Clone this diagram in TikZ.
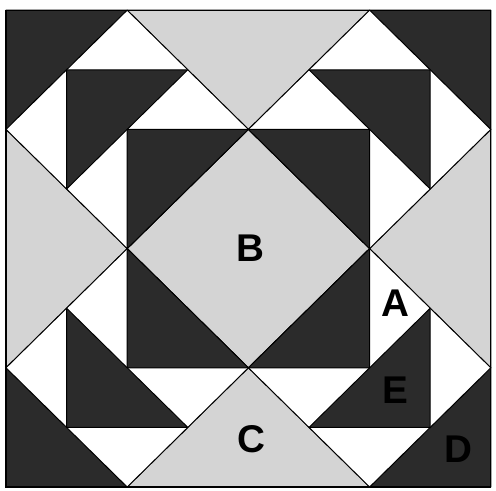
\documentclass[tikz,border=0pt]{standalone}
\usepackage{fontspec}
\setmainfont{Liberation Sans}
\definecolor{quiltdark}{HTML}{2B2B2B}
\definecolor{quiltlight}{HTML}{D4D4D4}
\begin{document}
\begin{tikzpicture}[x=45.45pt,y=44.7pt,
  darkpiece/.style={fill=quiltdark,draw=black,line width=0.7pt,line join=round},
  lightpiece/.style={fill=quiltlight,draw=black,line width=0.7pt,line join=round},
  whitepiece/.style={fill=white,draw=black,line width=0.7pt,line join=round},
  lab/.style={font=\fontsize{29}{29}\selectfont\bfseries,text=black,inner sep=0pt}]
\useasboundingbox (-4.5pt,-3pt) rectangle (367.5pt,365.25pt);
% corners
\filldraw[darkpiece] (0,8) -- (2,8) -- (0,6) -- cycle;
\filldraw[darkpiece] (8,8) -- (6,8) -- (8,6) -- cycle;
\filldraw[darkpiece] (0,0) -- (2,0) -- (0,2) -- cycle;
\filldraw[darkpiece] (8,0) -- (6,0) -- (8,2) -- cycle;
% light triangles and centre
\filldraw[lightpiece] (2,8) -- (6,8) -- (4,6) -- cycle;
\filldraw[lightpiece] (0,6) -- (2,4) -- (0,2) -- cycle;
\filldraw[lightpiece] (8,6) -- (6,4) -- (8,2) -- cycle;
\filldraw[lightpiece] (2,0) -- (6,0) -- (4,2) -- cycle;
\filldraw[lightpiece] (4,6) -- (6,4) -- (4,2) -- (2,4) -- cycle;
% diamonds
\filldraw[whitepiece] (2,8) -- (4,6) -- (2,4) -- (0,6) -- cycle;
\filldraw[whitepiece] (6,8) -- (8,6) -- (6,4) -- (4,6) -- cycle;
\filldraw[whitepiece] (2,4) -- (4,2) -- (2,0) -- (0,2) -- cycle;
\filldraw[whitepiece] (6,4) -- (8,2) -- (6,0) -- (4,2) -- cycle;
% dark triangles in diamonds
\filldraw[darkpiece] (1,7) -- (3,7) -- (1,5) -- cycle;
\filldraw[darkpiece] (2,6) -- (4,6) -- (2,4) -- cycle;
\filldraw[darkpiece] (5,7) -- (7,7) -- (7,5) -- cycle;
\filldraw[darkpiece] (4,6) -- (6,6) -- (6,4) -- cycle;
\filldraw[darkpiece] (1,3) -- (1,1) -- (3,1) -- cycle;
\filldraw[darkpiece] (2,4) -- (2,2) -- (4,2) -- cycle;
\filldraw[darkpiece] (7,3) -- (7,1) -- (5,1) -- cycle;
\filldraw[darkpiece] (6,4) -- (6,2) -- (4,2) -- cycle;
% border
\draw[line width=1pt] (0,0) rectangle (8,8);
% labels
\node[lab] (labB) at (4.03,4.0) {B};
\node[lab] (labA) at (6.42,3.08) {A};
\node[lab] (labC) at (4.05,0.8) {C};
\node[lab] (labE) at (6.42,1.63) {E};
\node[lab] (labD) at (7.46,0.64) {D};
\end{tikzpicture}
\end{document}
